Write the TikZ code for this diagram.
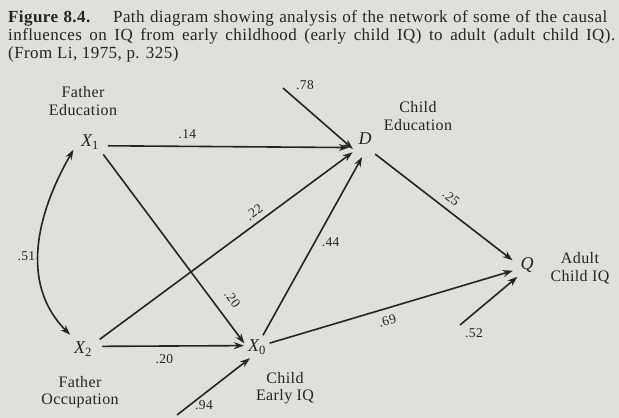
\documentclass[tikz,border=0pt]{standalone}
\usepackage{fontspec}
\setmainfont[LetterSpace=2.5]{Liberation Serif}
\usepackage{xcolor}
\usepackage{tikz}
\usetikzlibrary{positioning, arrows.meta}
\definecolor{paper}{RGB}{225,223,220}
\definecolor{ink}{RGB}{36,36,36}

\begin{document}
\begin{tikzpicture}[x = 1pt, y = -1pt, color = ink,
    >={Stealth[length = 10pt, width = 7pt]},
    var/.style = {circle, minimum size = #1, inner sep = 0pt, font = \fontsize{18}{18}\selectfont\itshape},
    var/.default = 32pt,
    word/.style = {align = center, font = \fontsize{16}{17.5}\selectfont},
    num/.style = {inner sep = 1.5pt, font = \fontsize{13.5}{13.5}\selectfont},
    path arrow/.style = {line width = 1.6pt, ->},
    caption/.style = {anchor = base west, inner sep = 0pt, font = \fontsize{17}{19}\selectfont}
]
    % page
    \fill[paper] (0, 0) rectangle (619, 418);
    \useasboundingbox (0, 0) rectangle (619, 418);


    % caption
    \node[caption] (cap1) at (8, 22) {\hbox to 599pt{\textbf{Figure 8.4.}\hspace{14pt} Path diagram showing analysis of the network of some of the causal}};
    \node[caption] (cap2) at (8, 40) {\hbox to 607pt{influences on IQ from early childhood (early child IQ) to adult (adult child IQ).}};
    \node[caption] (cap3) at (8, 58) {(From Li, 1975, p. 325)};


    % draw variables
    \node[var = 36pt] (X1) at (90, 142) {X\textsubscript{\upshape 1}};
    \node[var = 38pt] (X2) at (83, 349) {X\textsubscript{\upshape 2}};
    \node[var = 26pt] (X0) at (257, 347) {X\textsubscript{\upshape 0}};
    \node[var = 36pt] (D) at (365, 139) {D};
    \node[var = 30pt] (Q) at (527, 265) {Q};

    \node[word] (fedu) at (83, 101) {Father\\Education};
    \node[word] (focc) at (80, 392) {Father\\Occupation};
    \node[word] (cedu) at (418, 116) {Child\\Education};
    \node[word] (ciq) at (285, 388) {Child\\Early IQ};
    \node[word] (aiq) at (580, 268) {Adult\\Child IQ};


    % draw paths
    \draw[path arrow] (X1.348) -- node[num, above = 5pt, pos = 0.33] (l14) {.14} (D.208);
    \draw[path arrow] (X2.30) -- node[num, above = 3.5pt, sloped, pos = 0.635] (l22) {.22} (D.227);
    \draw[path arrow] (X0.63) -- node[num, right = 5pt, pos = 0.52] (l44) {.44} (D.261);
    \draw[path arrow] (X1.317) -- node[num, above = 10pt, sloped, pos = 0.82] (l20a) {.20} (X0.164);
    \draw[path arrow] (X2.8) -- node[num, below = 6pt, pos = 0.44] (l20b) {.20} (X0.174);
    \draw[path arrow] (X0.17) -- node[num, below = 5pt, sloped, pos = 0.47] (l69) {.69} (Q.202);
    \draw[path arrow] (D.304) -- node[num, above = 5pt, sloped, pos = 0.5] (l25) {.25} (Q.162);
    \draw[path arrow, <->] (X2.132) to[out = 135, in = 240] node[num, left = 1pt, pos = 0.45] (l51) {.51} (X1.205);


    % draw residual paths
    \coordinate (e78) at (283, 88);
    \coordinate (e52) at (460, 325);
    \coordinate (e94) at (177, 415);

    \draw[path arrow, shorten > = -7pt] (e78) -- (D.197);
    \draw[path arrow] (e52) -- (Q.231);
    \draw[path arrow] (e94) -- (X0.238);

    \node[num] (l78) at (305, 85) {.78};
    \node[num] (l52) at (474, 333) {.52};
    \node[num] (l94) at (204, 405) {.94};

\end{tikzpicture}
\end{document}
